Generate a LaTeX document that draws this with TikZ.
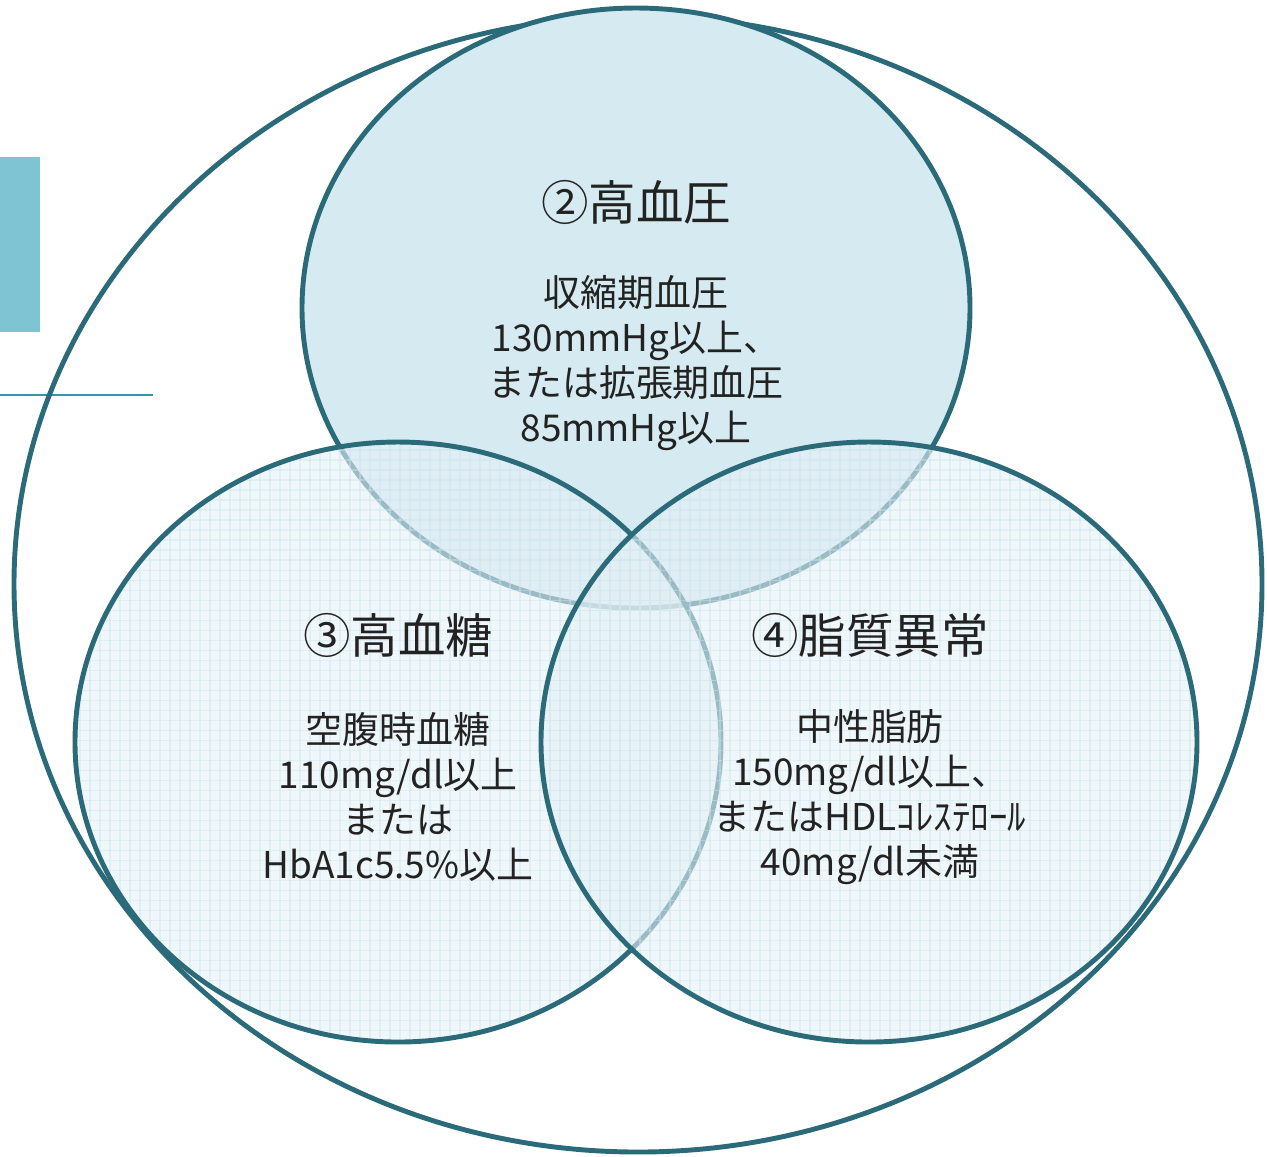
\documentclass[tikz,border=0pt]{standalone}
\usepackage{fontspec}
\setmainfont{Noto Sans CJK JP}
\usepackage{xcolor}
\usepackage{tikz}
\usetikzlibrary{positioning}
\definecolor{ringcol}{HTML}{2B6A78}
\definecolor{topfill}{HTML}{D5EBF1}
\definecolor{sidefill}{HTML}{E4F1F6}
\definecolor{gridcol}{HTML}{CFE5ED}
\definecolor{barcol}{HTML}{7FC4D2}
\definecolor{rulecol}{HTML}{3D93A5}
\definecolor{txtcol}{HTML}{222222}
\tikzset{
  ring/.style={draw=ringcol, line width=1.4pt},
  sidearea/.style={fill=sidefill, fill opacity=0.6},
  gridline/.style={draw=gridcol, line width=0.3pt, opacity=0.45},
  head/.style={text=txtcol, font=\fontsize{13.5pt}{16pt}\selectfont, inner sep=0pt},
  body/.style={text=txtcol, align=center, font=\fontsize{10.5pt}{12.8pt}\selectfont, inner sep=0pt},
}

\begin{document}
\begin{tikzpicture}[x=0.01cm, y=-0.01cm]
    \useasboundingbox (0,0) rectangle (1267,1156);
    % centres
    \coordinate (outerC) at (638,584);
    \coordinate (bpC)    at (636,308);
    \coordinate (bsC)    at (398,742);
    \coordinate (lipC)   at (869,742);

    % side marks
    \fill[barcol] (0,157) rectangle (40,332);
    \draw[rulecol, line width=0.6pt] (0,395) -- (153,395);

    % circles
    \draw[ring] (outerC) ellipse [x radius=624, y radius=568];
    \draw[ring, fill=topfill] (bpC) ellipse [x radius=334, y radius=300];

    \fill[sidearea] (bsC) ellipse [x radius=323, y radius=300];
    \begin{scope}
      \clip (bsC) ellipse [x radius=323, y radius=300];
      \foreach \gx in {70,80,...,730} \draw[gridline] (\gx,440) -- (\gx,1050);
      \foreach \gy in {440,450,...,1050} \draw[gridline] (70,\gy) -- (730,\gy);
    \end{scope}
    \draw[ring] (bsC) ellipse [x radius=323, y radius=300];

    \fill[sidearea] (lipC) ellipse [x radius=328, y radius=300];
    \begin{scope}
      \clip (lipC) ellipse [x radius=328, y radius=300];
      \foreach \gx in {540,550,...,1200} \draw[gridline] (\gx,440) -- (\gx,1050);
      \foreach \gy in {440,450,...,1050} \draw[gridline] (540,\gy) -- (1200,\gy);
    \end{scope}
    \draw[ring] (lipC) ellipse [x radius=328, y radius=300];

    % labels
    \node[head] (bpHead) at (636,202) {②高血圧};
    \node[body] (bpText) at (636,363)
      {収縮期血圧\\130mmHg以上、\\または拡張期血圧\\85mmHg以上};
    \node[head] (bsHead) at (398,635) {③高血糖};
    \node[body] (bsText) at (398,797)
      {空腹時血糖\\110mg/dl以上\\または\\HbA1c5.5\%以上};
    \node[head] (lipHead) at (870,635) {④脂質異常};
    \node[body] (lipText) at (870,797)
      {中性脂肪\\150mg/dl以上、\\またはHDLｺﾚｽﾃﾛｰﾙ\\40mg/dl未満};
  \end{tikzpicture}
\end{document}
